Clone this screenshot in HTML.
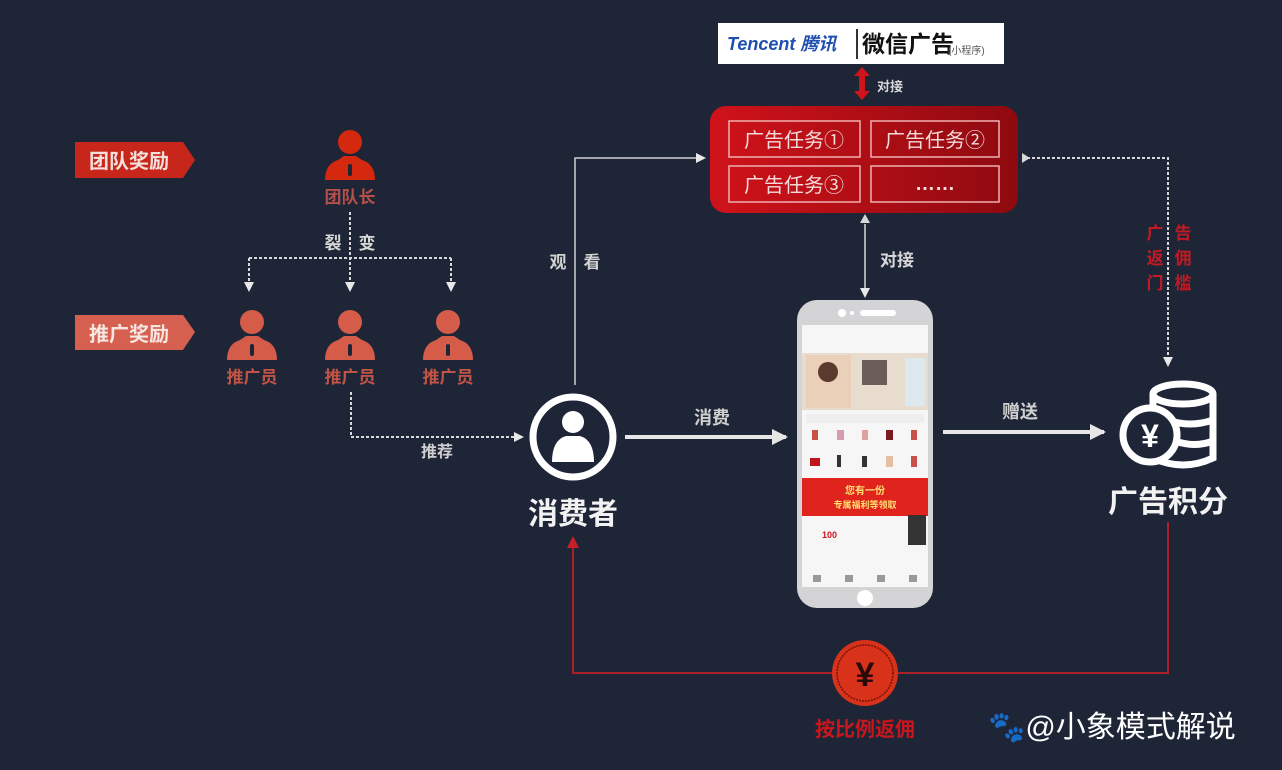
<!DOCTYPE html>
<html><head><meta charset="utf-8"><style>
html,body{margin:0;padding:0;background:#1e2537;width:1282px;height:770px;overflow:hidden}
svg{display:block}
text{font-family:"Liberation Sans","Noto Sans CJK SC",sans-serif}
</style></head><body>
<svg width="1282" height="770" viewBox="0 0 1282 770" xmlns="http://www.w3.org/2000/svg">
<defs>
<g id="p"><circle cx="0" cy="-8" r="12"/><path d="M-25 30 Q-25 14 -12 10 L-6 6 L6 6 L12 10 Q25 14 25 30 Z"/><rect x="-2" y="14" width="4" height="12" rx="2" fill="#1e2537"/></g>
<marker id="aw" markerWidth="10" markerHeight="10" refX="8" refY="5" orient="auto" markerUnits="userSpaceOnUse"><path d="M0 0 L10 5 L0 10 Z" fill="#e8e8e8"/></marker>
<marker id="ar" markerWidth="12" markerHeight="12" refX="10" refY="6" orient="auto" markerUnits="userSpaceOnUse"><path d="M0 0 L12 6 L0 12 Z" fill="#c8202a"/></marker>
<marker id="ab" markerWidth="16" markerHeight="16" refX="14" refY="8" orient="auto" markerUnits="userSpaceOnUse"><path d="M0 0 L16 8 L0 16 Z" fill="#e6e6e6"/></marker>
<linearGradient id="rg" x1="0" y1="0" x2="1" y2="0"><stop offset="0" stop-color="#d0121a"/><stop offset="1" stop-color="#8e0a10"/></linearGradient>
</defs>
<rect width="1282" height="770" fill="#1e2537"/>

<!-- left labels -->
<path d="M75 142 H183 L195 160 L183 178 H75 Z" fill="#c8261a"/>
<text x="129" y="168" fill="#f3e0dc" font-size="20" font-weight="bold" text-anchor="middle">团队奖励</text>
<path d="M75 315 H183 L195 332 L183 350 H75 Z" fill="#d6604f"/>
<text x="129" y="341" fill="#f6e6e2" font-size="20" font-weight="bold" text-anchor="middle">推广奖励</text>

<!-- persons -->
<g fill="#d4280f"><use href="#p" x="350" y="150"/></g>
<text x="350" y="203" fill="#b4504a" font-size="17" font-weight="bold" text-anchor="middle">团队长</text>
<g fill="#d55c48"><use href="#p" x="252" y="330"/><use href="#p" x="350" y="330"/><use href="#p" x="448" y="330"/></g>
<g fill="#c25446" font-size="17" font-weight="bold" text-anchor="middle"><text x="252" y="383">推广员</text><text x="350" y="383">推广员</text><text x="448" y="383">推广员</text></g>

<g stroke="#d8d8d8" stroke-width="2" stroke-dasharray="3,2" fill="none">
<path d="M350 212 V290" marker-end="url(#aw)"/>
<path d="M249 258 H451"/>
<path d="M249 258 V290" marker-end="url(#aw)"/>
<path d="M451 258 V290" marker-end="url(#aw)"/>
<path d="M351 392 V437 H522" marker-end="url(#aw)" stroke-dasharray="3,2"/>
<path d="M1022 158 H1168 V365" marker-end="url(#aw)"/>
</g>
<path d="M1030 158 l-8 -5 v10 z" fill="#d8d8d8"/>
<text x="350" y="249" fill="#d8d8d8" font-size="17" font-weight="bold" text-anchor="middle">裂　变</text>
<text x="437" y="457" fill="#d0d0d0" font-size="16" font-weight="bold" text-anchor="middle">推荐</text>

<!-- watch line -->
<path d="M575 385 V158 H704" stroke="#cfcfcf" stroke-width="1.5" fill="none" marker-end="url(#aw)"/>
<text x="575" y="268" fill="#d0d0d0" font-size="17" font-weight="bold" text-anchor="middle">观　看</text>

<!-- tencent -->
<rect x="718" y="23" width="286" height="41" fill="#fff"/>
<text x="727" y="50" fill="#1f4fb0" font-size="18" font-weight="bold" font-style="italic">Tencent 腾讯</text>
<rect x="856" y="29" width="2" height="30" fill="#333"/>
<text x="862" y="52" fill="#111" font-size="23" font-weight="bold">微信广告</text>
<text x="948" y="54" fill="#555" font-size="10">(小程序)</text>
<path d="M862 67 l-8 9 h5 v15 h-5 l8 9 l8 -9 h-5 v-15 h5 z" fill="#d0141c"/>
<text x="877" y="91" fill="#d8d8d8" font-size="13" font-weight="bold">对接</text>

<!-- red box -->
<rect x="710" y="106" width="308" height="107" rx="16" fill="url(#rg)"/>
<g fill="none" stroke="#f0b0b0" stroke-width="1.5">
<rect x="729" y="121" width="131" height="36"/><rect x="871" y="121" width="128" height="36"/>
<rect x="729" y="166" width="131" height="36"/><rect x="871" y="166" width="128" height="36"/>
</g>
<g fill="#f4dada" font-size="20" text-anchor="middle"><text x="794" y="147">广告任务①</text><text x="935" y="147">广告任务②</text><text x="794" y="192">广告任务③</text><text x="935" y="190" font-weight="bold">……</text></g>

<!-- connector box-phone -->
<path d="M865 224 V296" stroke="#d8d8d8" stroke-width="1.5" marker-end="url(#aw)"/>
<path d="M865 214 l-5 9 h10 z" fill="#d8d8d8"/>
<text x="897" y="266" fill="#d8d8d8" font-size="17" font-weight="bold" text-anchor="middle">对接</text>

<!-- phone -->
<rect x="797" y="300" width="136" height="308" rx="20" fill="#d4d4d6"/>
<circle cx="842" cy="313" r="4" fill="#fff"/><circle cx="852" cy="313" r="2" fill="#fff"/><rect x="860" y="310" width="36" height="6" rx="3" fill="#fff"/>
<rect x="802" y="325" width="126" height="262" fill="#f6f6f6"/>
<rect x="802" y="353" width="126" height="57" fill="#e8dccf"/>
<rect x="806" y="355" width="45" height="53" fill="#ead0b8"/>
<circle cx="828" cy="372" r="10" fill="#5a3a2c"/>
<rect x="862" y="360" width="25" height="25" fill="#6a5c58"/>
<rect x="905" y="358" width="20" height="48" fill="#dde8ef"/>
<rect x="806" y="414" width="118" height="9" fill="#eee"/>
<g fill="#c8524a"><rect x="812" y="430" width="6" height="10"/><rect x="837" y="430" width="7" height="10" fill="#d89ab0"/><rect x="862" y="430" width="6" height="10" fill="#e0a0a0"/><rect x="886" y="430" width="7" height="10" fill="#7a1a20"/><rect x="911" y="430" width="6" height="10"/>
<rect x="810" y="458" width="10" height="8" fill="#c0141c"/><rect x="837" y="455" width="4" height="12" fill="#333"/><rect x="862" y="456" width="5" height="11" fill="#333"/><rect x="886" y="456" width="7" height="11" fill="#e5c0a0"/><rect x="911" y="456" width="6" height="11"/></g>
<rect x="802" y="478" width="126" height="38" fill="#e0231c"/>
<text x="865" y="494" fill="#ffe070" font-size="10" font-weight="bold" text-anchor="middle">您有一份</text>
<text x="865" y="508" fill="#ffe070" font-size="9" font-weight="bold" text-anchor="middle">专属福利等领取</text>
<text x="822" y="538" fill="#d0141c" font-size="9" font-weight="bold">100</text>
<rect x="908" y="515" width="18" height="30" fill="#333"/>
<g fill="#999"><rect x="813" y="575" width="8" height="7"/><rect x="845" y="575" width="8" height="7"/><rect x="877" y="575" width="8" height="7"/><rect x="909" y="575" width="8" height="7"/></g>
<circle cx="865" cy="598" r="8" fill="#fff"/>

<!-- consumer -->
<circle cx="573" cy="437" r="40" fill="none" stroke="#fff" stroke-width="7"/>
<circle cx="573" cy="422" r="11" fill="#fff"/>
<path d="M552 462 Q552 440 566 436 L580 436 Q594 440 594 462 Z" fill="#fff"/>
<text x="573" y="524" fill="#f2f2f2" font-size="30" font-weight="bold" text-anchor="middle">消费者</text>

<path d="M625 437 H786" stroke="#e6e6e6" stroke-width="4" marker-end="url(#ab)"/>
<text x="712" y="424" fill="#d0d0d0" font-size="18" font-weight="bold" text-anchor="middle">消费</text>
<path d="M943 432 H1104" stroke="#e6e6e6" stroke-width="4" marker-end="url(#ab)"/>
<text x="1020" y="418" fill="#d0d0d0" font-size="18" font-weight="bold" text-anchor="middle">赠送</text>

<!-- coins -->
<g fill="none" stroke="#fff" stroke-width="7">
<ellipse cx="1183" cy="394" rx="30" ry="10"/>
<path d="M1153 394 V458 Q1183 472 1213 458 V394"/>
<path d="M1168 420 Q1190 428 1213 420"/><path d="M1175 441 Q1195 448 1213 441"/>
</g>
<circle cx="1150" cy="435" r="27" fill="#1e2537" stroke="#fff" stroke-width="7"/>
<text x="1150" y="447" fill="#fff" font-size="32" font-weight="bold" text-anchor="middle">¥</text>
<text x="1168" y="512" fill="#f2f2f2" font-size="30" font-weight="bold" text-anchor="middle">广告积分</text>
<g fill="#c21a22" font-size="17" font-weight="bold" text-anchor="middle">
<text x="1155" y="239">广</text><text x="1183" y="239">告</text>
<text x="1155" y="264">返</text><text x="1183" y="264">佣</text>
<text x="1155" y="289">门</text><text x="1183" y="289">槛</text></g>

<!-- red return line -->
<path d="M1168 522 V673 H573 V538" stroke="#a8202a" stroke-width="2" fill="none" marker-end="url(#ar)"/>
<circle cx="865" cy="673" r="33" fill="#d8321a"/>
<circle cx="865" cy="673" r="28" fill="none" stroke="#7a1008" stroke-width="1.5" stroke-dasharray="2,1"/>
<text x="865" y="686" fill="#2a0a08" font-size="34" font-weight="bold" text-anchor="middle">¥</text>
<text x="865" y="736" fill="#c8161c" font-size="20" font-weight="bold" text-anchor="middle">按比例返佣</text>

<text x="988" y="737" fill="#fff" font-size="30">🐾@小象模式解说</text>
</svg>
</body></html>
